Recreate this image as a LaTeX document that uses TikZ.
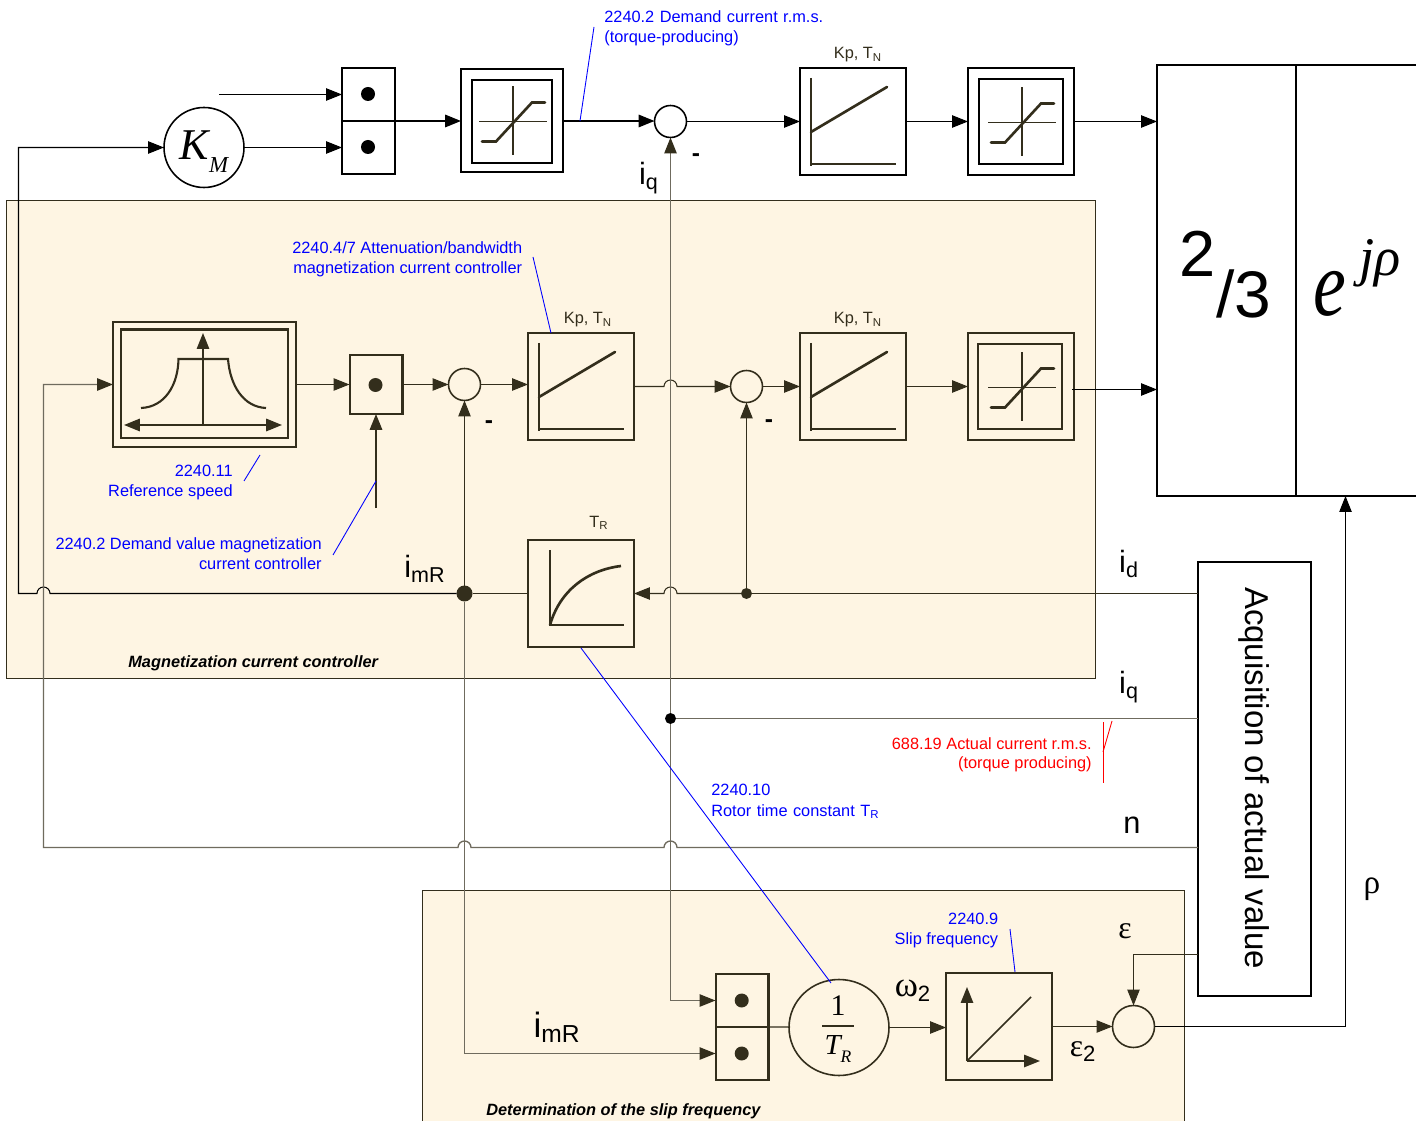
\documentclass[tikz,border=0pt]{standalone}
\usepackage{fontspec}
\usepackage{tikz}
\usepackage{xcolor}
\usetikzlibrary{arrows.meta,shapes.geometric}
\setmainfont{Liberation Sans}
\newfontfamily\symfont{Liberation Serif}
\newcommand{\sizedfont}[1]{\fontsize{#1}{#1}\selectfont}
\definecolor{regionfill}{HTML}{FEF5E3}
\definecolor{darkline}{HTML}{332E1C}
\definecolor{greywire}{HTML}{6F6B5E}
\tikzset{
  wire/.style={darkline,line width=0.6pt},
  greyline/.style={greywire,line width=0.75pt},
  blackline/.style={black,line width=0.6pt},
  tip/.style={-{Triangle[length=9pt,width=7pt]}},
  darktip/.style={-{Triangle[length=9pt,width=7pt,color=darkline]}},
  region/.style={fill=regionfill,draw=darkline,line width=0.6pt},
  blockbox/.style={draw,line width=1.15pt,inner sep=0pt,outer sep=0pt,minimum width=2.12cm,minimum height=2.14cm},
  innerbox/.style={blockbox,minimum width=1.68cm,minimum height=1.7cm},
  muxbox/.style={blockbox,minimum width=1.06cm,minimum height=1.06cm},
  sumcircle/.style={draw,circle,line width=0.9pt,inner sep=0pt,outer sep=0pt,minimum size=0.64cm},
  gaincircle/.style={draw,circle,line width=0.9pt,inner sep=0pt,outer sep=0pt,minimum size=1.6cm},
  dotnode/.style={circle,fill,inner sep=0pt,outer sep=0pt,minimum size=0.28cm},
  leader/.style={blue,line width=0.5pt},
  bluenote/.style={text=blue,font=\fontsize{9.3}{11.4}\selectfont,inner sep=0pt,align=right},
  rednote/.style={text=red,font=\fontsize{9.3}{10.9}\selectfont,inner sep=0pt,align=right},
  paramtext/.style={text=darkline,font=\sizedfont{9.3},inner sep=0pt},
  signaltext/.style={font=\sizedfont{17.5},inner sep=0pt},
  minustext/.style={font=\bfseries\sizedfont{14},inner sep=0pt},
  regiontext/.style={font=\bfseries\itshape\sizedfont{9.3},inner sep=0pt,anchor=west},
}
\newcommand{\limsymbol}[1]{%
\begin{scope}[shift={(#1.center)},darkline]
\draw[line width=1pt] (1,-34) -- (1,35);
\draw[line width=1pt] (-33,1) -- (35,1);
\draw[line width=1.5pt,line cap=round] (-30,21) -- (-16,21) -- (20,-18) -- (33,-18);
\end{scope}}
\newcommand{\pisymbol}[1]{%
\begin{scope}[shift={(#1.center)},darkline]
\draw[line width=0.9pt] (-42,-43.5) -- (-42,45);
\draw[line width=1.5pt] (-42,21) -- (-42,45);
\draw[line width=0.9pt] (-42,42.5) -- (42.5,42.5);
\draw[line width=1.5pt,line cap=round] (-42,10.5) -- (34,-34.5);
\end{scope}}
\begin{document}
\begin{tikzpicture}[x=0.02cm,y=-0.02cm]
\clip (0,0) rectangle (1416,1121);
\fill[white] (0,0) rectangle (1416,1121);
% regions
\draw[region] (6.5,200.5) rectangle (1095.5,678.5);
\draw[region] (422.5,890.5) rectangle (1184.5,1140);
% top row
\node[muxbox,black] (muxTopA) at (368.5,94.5) {};
\node[muxbox,black] (muxTopB) at (368.5,147.5) {};
\node[dotnode,black] (dotTopA) at (368,94) {};
\node[dotnode,black] (dotTopB) at (368,147) {};
\node[gaincircle,black] (gainKM) at (204,147.5) {};
\node[blockbox,black,minimum width=2.04cm,minimum height=2.06cm] (limA) at (512,120.5) {};
\node[innerbox,black,minimum width=1.6cm,minimum height=1.66cm] (limAin) at (512,121.5) {};
\node[sumcircle,black] (sumA) at (670.5,121.5) {};
\node[blockbox,black] (piA) at (853,121.5) {};
\node[blockbox,black] (limB) at (1021,121.5) {};
\node[innerbox,black] (limBin) at (1021,121.5) {};
\node[blockbox,black,minimum width=2.78cm,minimum height=8.62cm] (trafo) at (1226.5,280.5) {};
\node[blockbox,black,minimum width=2.48cm,minimum height=8.62cm] (rotor) at (1358,280.5) {};
\limsymbol{limA}
\limsymbol{limB}
\pisymbol{piA}
% magnetization controller blocks
\node[blockbox,darkline,minimum width=3.66cm,minimum height=2.5cm] (refBlock) at (204.5,384.5) {};
\node[blockbox,darkline,minimum width=3.34cm,minimum height=2.18cm] (refInner) at (204.5,384) {};
\node[muxbox,darkline,minimum height=1.18cm] (muxC) at (376,384.5) {};
\node[dotnode,darkline] (dotC) at (375.5,385) {};
\node[sumcircle,darkline] (sumB) at (464.5,384.5) {};
\node[blockbox,darkline] (piB) at (581,386.5) {};
\node[sumcircle,darkline] (sumC) at (746.5,386.5) {};
\node[blockbox,darkline] (piC) at (853,386.5) {};
\node[blockbox,darkline] (limC) at (1021,386.5) {};
\node[innerbox,darkline] (limCin) at (1020,386.5) {};
\node[blockbox,darkline] (lagBlock) at (581,593.5) {};
\limsymbol{limC}
\pisymbol{piB}
\pisymbol{piC}
\draw[darkline,line width=0.9pt] (203,425) -- (203,359);
\draw[darkline,line width=0.9pt,tip] (203,360) -- (203,333);
\draw[darkline,line width=1.2pt,{Triangle[length=9pt,width=7pt]}-{Triangle[length=9pt,width=7pt]}] (124,425) -- (282,425);
\draw[darkline,line width=1.2pt] (141,408) .. controls (165,407) and (178,385) .. (178.5,359) -- (228,359) .. controls (230,385) and (243,407) .. (266,408);
\draw[darkline,line width=0.9pt] (550,550) -- (550,625) -- (623.5,625);
\draw[darkline,line width=1.5pt] (550,625) .. controls (560,590) and (588,570) .. (621,566);
% slip frequency blocks
\node[muxbox,darkline] (muxBa) at (742,1000.5) {};
\node[muxbox,darkline] (muxBb) at (742,1053.5) {};
\node[dotnode,darkline] (dotBa) at (741.7,1000.5) {};
\node[dotnode,darkline] (dotBb) at (741.7,1053.5) {};
\node[draw,ellipse,darkline,line width=0.9pt,inner sep=0pt,outer sep=0pt,minimum width=2cm,minimum height=1.92cm] (gainTR) at (839,1027.5) {};
\node[blockbox,darkline] (slipBlock) at (999,1026.5) {};
\node[sumcircle,darkline,minimum size=0.84cm] (sumD) at (1133.5,1026.5) {};
\draw[darkline,line width=0.9pt,tip] (967,1061) -- (967,987);
\draw[darkline,line width=0.9pt,tip] (967,1061) -- (1040,1061);
\draw[darkline,line width=0.9pt] (967,1061) -- (1031,997);
\draw[darkline,line width=0.6pt] (822,1026) -- (854,1026);
\node[blockbox,black,minimum width=2.26cm,minimum height=8.68cm] (acq) at (1254.5,779) {};
% junctions
\node[dotnode,darkline,minimum size=0.32cm] (imrDot) at (464.5,593.5) {};
\node[dotnode,darkline,minimum size=0.22cm] (idDot) at (746.5,593.5) {};
\node[dotnode,black,minimum size=0.22cm] (iqDot) at (670.5,718.5) {};
\coordinate (freeTop) at (219,94.5);
\coordinate (demandStart) at (376,508);
\coordinate (imrCorner) at (18.5,593.5);
\coordinate (speedCorner) at (43.5,847.5);
\coordinate (limCout) at (1072,389.5);
\coordinate (epsCorner) at (1133.5,954.5);
\coordinate (rhoCorner) at (1345.5,1026.5);
\coordinate (rhoEnd) at (1345.5,496);
\coordinate (gainTRin) at (790,1027);
% top row connectors
\draw[blackline,tip] (freeTop) -- (freeTop -| muxTopA.west);
\draw[blackline,tip] (gainKM.east) -- (muxTopB.west);
\draw[black,line width=1.15pt,tip] (muxTopA.south east) -- (muxTopA.south east -| limA.west);
\draw[black,line width=1.15pt,tip] (limA.east |- muxTopA.south east) -- (sumA.west |- muxTopA.south east);
\draw[blackline,tip] (sumA.east) -- (piA.west);
\draw[blackline,tip] (piA.east) -- (limB.west);
\draw[blackline,tip] (limB.east) -- (limB.east -| trafo.west);
% controller connectors
\draw[wire,tip] (refBlock.east) -- (muxC.west);
\draw[wire,tip] (muxC.east) -- (sumB.west);
\draw[wire,tip] (sumB.east) -- (sumB.east -| piB.west);
\draw[wire,tip] (piB.east) -- (664,386.5) arc[start angle=180,end angle=360,radius=6.5] -- (sumC.west);
\draw[wire,tip] (sumC.east) -- (piC.west);
\draw[wire,tip] (piC.east) -- (limC.west);
\draw[blackline,tip] (limCout) -- (limCout -| trafo.west);
\draw[darkline,line width=1.15pt,tip] (demandStart) -- (muxC.south);
\draw[wire,tip] (imrDot) -- (sumB.south);
\draw[wire,tip] (idDot) -- (sumC.south);
\draw[wire,tip] (idDot) -- (677,593.5) arc[start angle=0,end angle=-180,radius=6.5] -- (lagBlock.east);
\draw[wire] (idDot) -- (idDot -| acq.west);
\draw[wire] (lagBlock.west) -- (imrDot);
\draw[blackline,tip] (imrDot) -- (50,593.5) arc[start angle=0,end angle=-180,radius=6.5] -- (imrCorner) -- (imrCorner |- gainKM.west) -- (gainKM.west);
% actual value connectors
\draw[greyline] (iqDot) -- (iqDot -| acq.west);
\draw[greyline,darktip] (iqDot) -- (sumA.south);
\draw[greyline,darktip] (iqDot) |- (muxBa.west);
\draw[greyline,darktip] (imrDot) |- (muxBb.west);
\draw[greyline,darktip] (speedCorner -| acq.west) -- (677,847.5) arc[start angle=0,end angle=-180,radius=6.5] -- (471,847.5) arc[start angle=0,end angle=-180,radius=6.5] -- (speedCorner) -- (speedCorner |- refBlock.west) -- (refBlock.west);
% slip frequency connectors
\draw[wire] (muxBa.south east) -- (gainTRin);
\draw[wire,tip] (gainTR.east) -- (gainTR.east -| slipBlock.west);
\draw[wire,tip] (slipBlock.east) -- (sumD.west);
\draw[wire,tip] (epsCorner -| acq.west) -- (epsCorner) -- (sumD.north);
\draw[blackline,tip] (sumD.east) -- (rhoCorner) -- (rhoEnd);
% blue and red leader lines
\coordinate (leadA) at (594,27);
\coordinate (leadAend) at (580,121);
\coordinate (leadB) at (533,257);
\coordinate (leadBend) at (551,333);
\coordinate (leadC) at (260,455);
\coordinate (leadCend) at (244,481);
\coordinate (leadD) at (376,481);
\coordinate (leadDend) at (333,555);
\coordinate (leadE) at (581,648);
\coordinate (leadEend) at (831,983);
\coordinate (leadF) at (1010,929);
\coordinate (leadFend) at (1015,972);
\coordinate (leadG) at (1103,722);
\coordinate (leadGend) at (1103,783);
\coordinate (leadH) at (1103,752);
\coordinate (leadHend) at (1112,721);
\draw[leader] (leadA) -- (leadAend);
\draw[leader] (leadB) -- (leadBend);
\draw[leader] (leadC) -- (leadCend);
\draw[leader] (leadD) -- (leadDend);
\draw[leader] (leadE) -- (leadEend);
\draw[leader] (leadF) -- (leadFend);
\draw[red,line width=0.5pt] (leadG) -- (leadGend);
\draw[red,line width=0.5pt] (leadH) -- (leadHend);
% notes
\node[bluenote,anchor=west,align=left,text width=4.6cm] (noteDemandQ) at (604,28) {2240.2 Demand current r.m.s.\\(torque-producing)};
\node[bluenote,anchor=east] (noteAtten) at (522.5,259) {2240.4/7 Attenuation/bandwidth\\magnetization current controller};
\node[bluenote,anchor=east] (noteRef) at (233,482.5) {2240.11\\Reference speed};
\node[bluenote,anchor=east] (noteDemandM) at (322,554) {2240.2 Demand value magnetization\\current controller};
\node[bluenote,anchor=west,align=left,text width=4.6cm] (noteRotor) at (711,801.5) {2240.10\\Rotor time constant T\textsubscript{R}};
\node[bluenote,anchor=east] (noteSlip) at (998.5,930) {2240.9\\Slip frequency};
\node[rednote,anchor=east] (noteActual) at (1092,755) {688.19 Actual current r.m.s.\\(torque producing)};
\node[paramtext] (paramA) at (858,55) {Kp, T\textsubscript{N}};
\node[paramtext] (paramB) at (588,320) {Kp, T\textsubscript{N}};
\node[paramtext] (paramC) at (858,320) {Kp, T\textsubscript{N}};
\node[paramtext] (paramD) at (599,523) {T\textsubscript{R}};
% signal names
\node[signaltext] (nameIqA) at (649,178) {i\textsubscript{q}};
\node[signaltext] (nameImrA) at (425,569) {i\textsubscript{mR}};
\node[signaltext] (nameId) at (1129,564) {i\textsubscript{d}};
\node[signaltext] (nameIqB) at (1129,687) {i\textsubscript{q}};
\node[signaltext] (nameN) at (1132,825) {n};
\node[signaltext,font=\sizedfont{20}] (nameImrB) at (557,1027) {i\textsubscript{mR}};
\node[signaltext,font=\symfont\sizedfont{19}] (nameRho) at (1372,889) {ρ};
\node[signaltext,font=\symfont\sizedfont{18}] (nameEps) at (1125,931) {ε};
\node[signaltext,font=\sizedfont{18}] (nameOmega) at (913,991) {{\symfont\sizedfont{20}ω}\textsubscript{2}};
\node[signaltext,font=\sizedfont{18}] (nameEpsTwo) at (1083,1052) {{\symfont ε}\textsubscript{2}};
\node[minustext] (minusA) at (696,158) {-};
\node[minustext] (minusB) at (489,425) {-};
\node[minustext] (minusC) at (769,424) {-};
\node[regiontext] (titleMag) at (128,663) {Magnetization current controller};
\node[regiontext] (titleSlip) at (486,1111) {Determination of the slip frequency};
\node[rotate=-90,font=\sizedfont{18.8},inner sep=0pt] (acqText) at (1254,778) {Acquisition of actual value};
% block formulas
\node[inner sep=0pt,font=\symfont\itshape] (textKM) at (204,152) {\sizedfont{25}K\raisebox{-0.3em}{\sizedfont{13}M}};
\node[inner sep=0pt,font=\symfont\sizedfont{17}] (textOne) at (838,1006) {1};
\node[inner sep=0pt,font=\symfont\itshape] (textTR) at (838,1049) {\sizedfont{16.5}T\raisebox{-0.3em}{\sizedfont{10}R}};
\node[inner sep=0pt,font=\sizedfont{37}] (textTwo) at (1197.5,254) {2};
\node[inner sep=0pt,font=\sizedfont{37.5}] (textThird) at (1244,294) {/3};
\node[inner sep=0pt,font=\symfont\itshape\sizedfont{42}] (textE) at (1330,294) {\scalebox{1}[1.27]{e}};
\node[inner sep=0pt,font=\symfont\itshape\sizedfont{31}] (textJrho) at (1380,263) {jρ};
\end{tikzpicture}
\end{document}
